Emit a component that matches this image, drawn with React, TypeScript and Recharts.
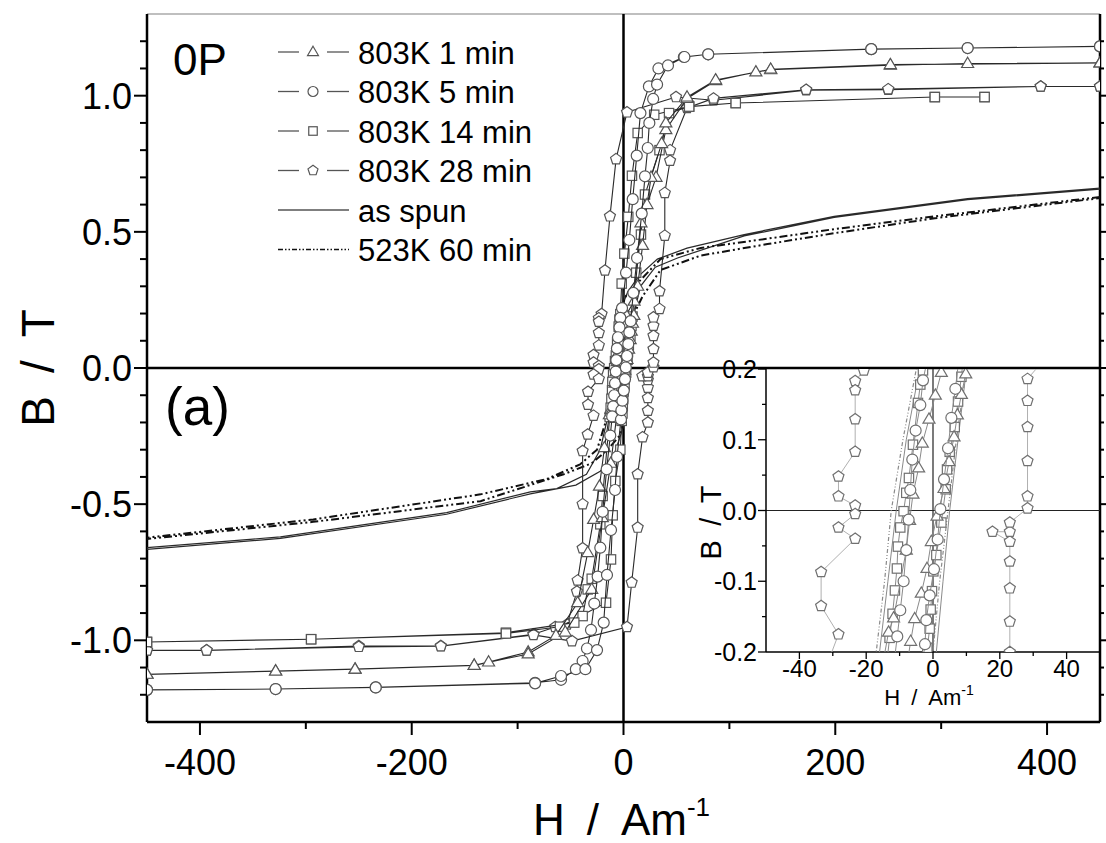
import React from "react";
import { ScatterChart, Scatter, XAxis, YAxis, ReferenceLine, Label } from "recharts";

type Pt = [number, number];

// 803K 1 min (triangles): descending branch, then ascending branch
const min1Down: Pt[] = [
  [450, 1.12], [325, 1.118], [252, 1.112], [139, 1.095], [125, 1.087], [87, 1.055], [60, 0.99],
  [40, 0.875], [30.7, 0.7], [16.5, 0.533], [10, 0.245], [2.5, 0.195], [0.7, 0.163], [-1.2, 0.129],
  [-3.2, 0.095], [-4.3, 0.06], [-6, 0.023], [-7, -0.014], [-8, -0.056], [-11.8, -0.152], [-13.3, -0.172],
  [-18, -0.293], [-22.7, -0.434], [-28.2, -0.556], [-33.8, -0.678], [-43.3, -0.862], [-63.8, -0.982],
  [-90, -1.043], [-127.4, -1.08], [-141, -1.092], [-253.5, -1.106], [-328.5, -1.113], [-450, -1.125],
];
const min1Up: Pt[] = [
  [-450, -1.125], [-328.5, -1.113], [-253.5, -1.106], [-141, -1.092], [-90, -1.05], [-55, -0.97],
  [-30, -0.813], [-20, -0.55], [-12, -0.35], [-6.7, -0.185], [-5.5, -0.153], [-3.5, -0.117], [-1.8, -0.082],
  [-0.5, -0.044], [1.2, -0.008], [3.3, 0.031], [4.8, 0.069], [6.3, 0.104], [7.3, 0.135], [8.5, 0.164],
  [9.8, 0.193], [13.4, 0.3], [18, 0.45], [22.2, 0.6], [26, 0.7], [36, 0.824], [40, 0.9], [60, 0.995],
  [87, 1.058], [139, 1.097], [252, 1.114], [450, 1.12],
];

// 803K 5 min (circles)
const min5Down: Pt[] = [
  [450, 1.181], [325, 1.175], [234, 1.171], [80, 1.152], [57, 1.142], [33, 1.1], [24, 1.034], [16, 0.936],
  [12.5, 0.78], [8.7, 0.62], [5.5, 0.47], [2.4, 0.35], [-1.4, 0.22], [-3, 0.184], [-3.8, 0.149],
  [-5.2, 0.113], [-6.2, 0.072], [-6.8, 0.029], [-7.3, -0.013], [-8, -0.056], [-8.8, -0.1], [-9.8, -0.141],
  [-10.7, -0.178], [-12.5, -0.248], [-15.9, -0.372], [-19.7, -0.528], [-21.9, -0.66], [-24.4, -0.766],
  [-27.6, -0.865], [-30.7, -0.962], [-34.5, -1.03], [-38.6, -1.076], [-45, -1.106], [-59, -1.145],
  [-83.5, -1.156], [-234, -1.173], [-328.5, -1.179], [-450, -1.182],
];
const min5Up: Pt[] = [
  [-450, -1.182], [-328.5, -1.179], [-234, -1.173], [-83.5, -1.158], [-59, -1.131], [-36, -1.106],
  [-25, -1.036], [-18.7, -0.935], [-15.6, -0.76], [-11.8, -0.595], [-8, -0.448], [-6.1, -0.326],
  [-2.4, -0.189], [-2, -0.155], [-1, -0.12], [0.3, -0.083], [1.4, -0.041], [2.2, 0.002], [3.3, 0.044],
  [4.5, 0.088], [5.5, 0.131], [6.7, 0.172], [9.3, 0.276], [12.8, 0.404], [17.2, 0.567], [20.3, 0.704],
  [22.9, 0.808], [24.4, 0.9], [28, 0.988], [31.7, 1.041], [42, 1.111], [57.5, 1.142], [80, 1.152],
  [234, 1.171], [325, 1.175], [450, 1.181],
];

// 803K 14 min (squares)
const min14Down: Pt[] = [
  [341, 0.995], [294, 0.995], [106, 0.973], [62, 0.96], [29, 0.93], [13.4, 0.863], [8, 0.706], [4.5, 0.555],
  [0.8, 0.42], [-1.7, 0.31], [-3, 0.198], [-3.8, 0.178], [-4.5, 0.152], [-6, 0.093], [-7.2, 0.046],
  [-8, 0.025], [-8.8, -0.001], [-9.8, -0.024], [-10.5, -0.051], [-10.8, -0.082], [-11.4, -0.113],
  [-12.1, -0.146], [-13, -0.18], [-19.7, -0.47], [-21.9, -0.574], [-30, -0.774], [-33.8, -0.813],
  [-38.6, -0.911], [-46.5, -0.935], [-111, -0.972], [-295, -0.996], [-450, -1.006],
];
const min14Up: Pt[] = [
  [-450, -1.006], [-295, -0.996], [-111, -0.975], [-60, -0.95], [-16.5, -0.862], [-11.8, -0.703],
  [-10.2, -0.541], [-7.7, -0.415], [-3, -0.3], [-1.7, -0.194], [-1, -0.167], [-0.7, -0.14], [-0.3, -0.114],
  [0.1, -0.086], [1, -0.063], [2.5, -0.017], [3.8, 0.03], [4.2, 0.058], [5, 0.083], [6.5, 0.118],
  [7.5, 0.154], [8.5, 0.189], [12, 0.35], [16.5, 0.49], [20.3, 0.637], [34, 0.8], [43, 0.936], [62, 0.96],
  [106, 0.973], [294, 0.995], [341, 0.995],
];

// 803K 28 min (pentagons)
const min28Down: Pt[] = [
  [450, 1.034], [394, 1.034], [250, 1.022], [172.5, 1.02], [85, 0.983], [49.6, 0.995], [3.3, 0.939],
  [-7, 0.767], [-12.8, 0.557], [-17.5, 0.358], [-20.7, 0.198], [-23.3, 0.183], [-23.3, 0.17], [-23.3, 0.129],
  [-23.3, 0.083], [-28.3, 0.048], [-28.3, 0.02], [-23.3, 0.007], [-23.3, -0.005], [-28.3, -0.024],
  [-23.3, -0.04], [-33.5, -0.087], [-33.5, -0.135], [-28.3, -0.175], [-33.8, -0.244], [-38.6, -0.305],
  [-38.6, -0.5], [-38.6, -0.662], [-43.3, -0.78], [-44, -0.821], [-53.4, -0.942], [-64.5, -0.951],
  [-85, -0.978], [-172.5, -1.021], [-250, -1.021], [-393.7, -1.037], [-450, -1.037],
];
const min28Up: Pt[] = [
  [-450, -1.037], [-393.7, -1.037], [-250, -1.024], [-172.5, -1.022], [-85, -0.98], [-48.7, -1.003],
  [3.3, -0.951], [7.7, -0.788], [13.4, -0.586], [13.4, -0.39], [18, -0.254], [23, -0.2], [23, -0.157],
  [23, -0.11], [23, -0.072], [23, -0.044], [17.8, -0.03], [23, -0.03], [23, -0.017], [28.3, 0.003],
  [28.3, 0.02], [28.3, 0.07], [28.3, 0.118], [28.3, 0.155], [28.3, 0.186], [34, 0.217], [34, 0.282],
  [39, 0.486], [39, 0.643], [44, 0.761], [44, 0.8], [60, 0.955], [85, 0.99], [172.5, 1.022], [250, 1.024],
  [394, 1.034], [450, 1.034],
];

// as spun (solid)
const asSpunDown: Pt[] = [
  [450, 0.661], [325, 0.622], [199, 0.557], [114, 0.49], [60, 0.44], [32, 0.4], [15, 0.34], [4, 0.28],
  [-4, 0.2], [-8, 0.1], [-11, 0], [-13.5, -0.1], [-16, -0.2], [-22, -0.3], [-35, -0.39], [-63, -0.443],
  [-88, -0.455], [-167, -0.531], [-324, -0.62], [-450, -0.66],
];
const asSpunUp: Pt[] = [
  [-450, -0.666], [-324, -0.626], [-167, -0.537], [-88, -0.462], [-45, -0.43], [-22, -0.379], [-10, -0.33],
  [-3, -0.25], [1, -0.2], [3, -0.1], [5, 0], [7.5, 0.1], [10, 0.2], [16, 0.3], [30, 0.37], [51, 0.404],
  [114, 0.485], [199, 0.553], [325, 0.618], [450, 0.657],
];

// 523K 60 min (dash-dot-dot)
const k523Down: Pt[] = [
  [450, 0.628], [294, 0.557], [199, 0.51], [136, 0.475], [73, 0.441], [35, 0.4], [16.5, 0.325], [3, 0.27],
  [-5, 0.2], [-9, 0.1], [-12.5, 0], [-14.5, -0.1], [-17, -0.2], [-25, -0.3], [-41, -0.354], [-72, -0.407],
  [-135, -0.464], [-293, -0.556], [-450, -0.623],
];
const k523Up: Pt[] = [
  [-450, -0.628], [-293, -0.565], [-135, -0.489], [-56.5, -0.39], [-30, -0.35], [-15, -0.3], [-4, -0.25],
  [0, -0.2], [2, -0.1], [4.5, 0], [7, 0.1], [10, 0.2], [18, 0.263], [35, 0.36], [73, 0.413], [136, 0.455],
  [199, 0.495], [294, 0.55], [450, 0.624],
];

const mainXTicks = [-400, -300, -200, -100, 0, 100, 200, 300, 400];
const mainYTicks = [
  -1.2, -1.1, -1.0, -0.9, -0.8, -0.7, -0.6, -0.5, -0.4, -0.3, -0.2, -0.1, 0,
  0.1, 0.2, 0.3, 0.4, 0.5, 0.6, 0.7, 0.8, 0.9, 1.0, 1.1, 1.2,
];
const insetXTicks = [-40, -30, -20, -10, 0, 10, 20, 30, 40];
const insetYTicks = [-0.2, -0.15, -0.1, -0.05, 0, 0.05, 0.1, 0.15, 0.2];

const FONT = '"Liberation Sans", Arial, Helvetica, sans-serif';

type Kind = "tri" | "circ" | "sq" | "pent" | "none";
type Series = { name: string; kind: Kind; rows: { h: number; b: number }[]; dash?: string; width: number };

const toRows = (down: Pt[], up: Pt[]) => [...down, ...up].map(([h, b]) => ({ h, b }));

const series: Series[] = [
  { name: "803K 1 min", kind: "tri", rows: toRows(min1Down, min1Up), width: 1.1 },
  { name: "803K 5 min", kind: "circ", rows: toRows(min5Down, min5Up), width: 1.1 },
  { name: "803K 14 min", kind: "sq", rows: toRows(min14Down, min14Up), width: 1.1 },
  { name: "803K 28 min", kind: "pent", rows: toRows(min28Down, min28Up), width: 1.1 },
  { name: "as spun", kind: "none", rows: toRows(asSpunDown, asSpunUp), width: 1.2 },
  { name: "523K 60 min", kind: "none", rows: toRows(k523Down, k523Up), dash: "8 3 2 3 2 3", width: 2 },
];
// drawn back to front
const drawOrder = [4, 5, 3, 2, 0, 1];

function Marker({ cx, cy, kind, size, stroke }: { cx: number; cy: number; kind: Kind; size: number; stroke: string }) {
  if (kind === "none" || cx == null || cy == null) return <g />;
  const r = size / 2;
  const common = { fill: "#fff", stroke, strokeWidth: 1.2 };
  if (kind === "circ") return <circle cx={cx} cy={cy} r={r} {...common} />;
  if (kind === "sq") return <rect x={cx - r * 0.85} y={cy - r * 0.85} width={r * 1.7} height={r * 1.7} {...common} />;
  if (kind === "tri") {
    const h = r * 1.15;
    return <polygon points={`${cx},${cy - h} ${cx + h * 0.95},${cy + h * 0.62} ${cx - h * 0.95},${cy + h * 0.62}`} {...common} />;
  }
  const pts = [0, 1, 2, 3, 4]
    .map((i) => {
      const a = -Math.PI / 2 + (i * 2 * Math.PI) / 5;
      return `${cx + r * 1.05 * Math.cos(a)},${cy + r * 1.05 * Math.sin(a)}`;
    })
    .join(" ");
  return <polygon points={pts} {...common} />;
}

// main axes ticks (major + minor drawn by hand)
const MainYTick = (props: any) => {
  const { x, y, payload, orientation } = props;
  const v = payload.value as number;
  const major = Math.round(v * 10) % 5 === 0;
  const len = major ? 13 : 7;
  if (orientation === "right") {
    return <line x1={x} x2={x + (major ? 6 : 4)} y1={y} y2={y} stroke="#000" strokeWidth={2} />;
  }
  return (
    <g>
      <line x1={x} x2={x - len} y1={y} y2={y} stroke="#000" strokeWidth={2} />
      {major && (
        <text x={x - 15} y={y + 13} textAnchor="end" fontSize={36} fontFamily={FONT} fill="#000">
          {v.toFixed(1)}
        </text>
      )}
    </g>
  );
};

const MainXTick = (props: any) => {
  const { x, y, payload } = props;
  const v = payload.value as number;
  const major = v % 200 === 0;
  return (
    <g>
      <line x1={x} x2={x} y1={y} y2={y + (major ? 13 : 7)} stroke="#000" strokeWidth={2} />
      {major && (
        <text x={x} y={y + 53} textAnchor="middle" fontSize={36} fontFamily={FONT} fill="#000">
          {v}
        </text>
      )}
    </g>
  );
};

const InsetYTick = (props: any) => {
  const { x, y, payload } = props;
  const v = payload.value as number;
  const major = Math.round(v * 100) % 10 === 0;
  return (
    <g>
      <line x1={x} x2={x - (major ? 8 : 4)} y1={y} y2={y} stroke="#000" strokeWidth={1.3} />
      {major && (
        <text x={x - 9} y={y + 9} textAnchor="end" fontSize={25} fontFamily={FONT} fill="#000">
          {v.toFixed(1)}
        </text>
      )}
    </g>
  );
};

const InsetXTick = (props: any) => {
  const { x, y, payload } = props;
  const v = payload.value as number;
  const major = v % 20 === 0;
  return (
    <g>
      <line x1={x} x2={x} y1={y} y2={y + (major ? 7 : 4)} stroke="#000" strokeWidth={1.3} />
      {major && (
        <text x={x} y={y + 25} textAnchor="middle" fontSize={24} fontFamily={FONT} fill="#000">
          {v}
        </text>
      )}
    </g>
  );
};

const SP = "\u2002";

const MainXTitle = (props: any) => {
  const vb = props.viewBox;
  return (
    <text x={vb.x + vb.width / 2 - 2} y={vb.y + 113} textAnchor="middle" fontSize={44} fontFamily={FONT} fill="#000">
      {`H${SP}/${SP}Am`}
      <tspan dy={-19} fontSize={26}>-1</tspan>
    </text>
  );
};

const MainYTitle = (props: any) => {
  const vb = props.viewBox;
  const cy = vb.y + vb.height / 2;
  return (
    <text x={54} y={cy} transform={`rotate(-90 54 ${cy})`} textAnchor="middle" fontSize={46} fontFamily={FONT} fill="#000">
      {`B${SP}/${SP}T`}
    </text>
  );
};

const InsetXTitle = (props: any) => {
  const vb = props.viewBox;
  return (
    <text x={vb.x + vb.width / 2 - 4} y={vb.y + 53} textAnchor="middle" fontSize={22} fontFamily={FONT} fill="#000">
      {`H${SP}/${SP}Am`}
      <tspan dy={-10} fontSize={14}>-1</tspan>
    </text>
  );
};

const InsetYTitle = (props: any) => {
  const vb = props.viewBox;
  const cy = vb.y + vb.height / 2 + 12;
  return (
    <text x={31} y={cy} transform={`rotate(-90 31 ${cy})`} textAnchor="middle" fontSize={29} fontFamily={FONT} fill="#000">
      {`B${SP}/${SP}T`}
    </text>
  );
};

function Legend() {
  const rowY = [52, 91.5, 131, 170.5, 210, 249.5];
  return (
    <svg width={1106} height={843} style={{ position: "absolute", left: 0, top: 0, pointerEvents: "none" }}>
      <text x={173} y={75} fontSize={44} fontFamily={FONT} fill="#000">0P</text>
      <text x={165} y={425} fontSize={53} fontFamily={FONT} fill="#000">(a)</text>
      {series.map((s, i) => {
        const y = rowY[i];
        return (
          <g key={s.name}>
            {s.kind === "none" ? (
              <line x1={278} x2={349} y1={y} y2={y} stroke={s.dash ? "#111" : "#555"} strokeWidth={1.3} strokeDasharray={s.dash ? "5 2 1.5 2 1.5 2" : undefined} />
            ) : (
              <g>
                <line x1={278} x2={299} y1={y} y2={y} stroke="#555" strokeWidth={1.3} />
                <line x1={327} x2={349} y1={y} y2={y} stroke="#555" strokeWidth={1.3} />
                <Marker cx={313} cy={y} kind={s.kind} size={10} stroke="#555" />
              </g>
            )}
            <text x={358} y={y + 11.5} fontSize={31} fontFamily={FONT} fill="#000">{s.name}</text>
          </g>
        );
      })}
    </svg>
  );
}

function Inset() {
  return (
    <div style={{ position: "absolute", left: 690, top: 355 }}>
      <ScatterChart width={416} height={368} margin={{ top: 14, right: 6, bottom: 0, left: 0 }}>
        <XAxis
          type="number"
          dataKey="h"
          domain={[-50, 50]}
          allowDataOverflow
          ticks={insetXTicks}
          interval={0}
          tickSize={0}
          tickMargin={0}
          tickLine={false}
          height={71}
          axisLine={{ stroke: "#000", strokeWidth: 1.5 }}
          tick={(p: any) => <InsetXTick {...p} />}
        >
          <Label content={InsetXTitle} />
        </XAxis>
        <YAxis
          type="number"
          dataKey="b"
          domain={[-0.2, 0.2]}
          allowDataOverflow
          ticks={insetYTicks}
          interval={0}
          tickSize={0}
          tickMargin={0}
          tickLine={false}
          width={76}
          axisLine={{ stroke: "#000", strokeWidth: 1.5 }}
          tick={(p: any) => <InsetYTick {...p} />}
        >
          <Label content={InsetYTitle} />
        </YAxis>
        <ReferenceLine x={0} stroke="#222" strokeWidth={1.2} />
        <ReferenceLine y={0} stroke="#222" strokeWidth={1.2} />
        {drawOrder.map((i) => {
          const s = series[i];
          return (
            <Scatter
              key={s.name}
              name={s.name}
              data={s.rows}
              isAnimationActive={false}
              line={{ stroke: s.kind === "pent" ? "#b0b0b0" : "#8a8a8a", strokeWidth: s.dash ? 1.2 : 1, strokeDasharray: s.dash ? "4 2 1 2 1 2" : undefined }}
              lineType="joint"
              shape={(p: any) => <Marker cx={p.cx} cy={p.cy} kind={s.kind} size={11} stroke="#707070" />}
            />
          );
        })}
      </ScatterChart>
    </div>
  );
}

export default function App() {
  return (
    <div style={{ position: "absolute", left: 0, top: 0, width: 1106, height: 843, background: "#fff" }}>
      <ScatterChart width={1106} height={843} margin={{ top: 14, right: 0, bottom: 0, left: 0 }}>
        <XAxis
          type="number"
          dataKey="h"
          domain={[-450, 450]}
          allowDataOverflow
          ticks={mainXTicks}
          interval={0}
          tickSize={0}
          tickMargin={0}
          tickLine={false}
          height={121}
          axisLine={{ stroke: "#000", strokeWidth: 2.5 }}
          tick={(p: any) => <MainXTick {...p} />}
        >
          <Label content={MainXTitle} />
        </XAxis>
        <YAxis
          yAxisId="l"
          type="number"
          dataKey="b"
          domain={[-1.3, 1.3]}
          allowDataOverflow
          ticks={mainYTicks}
          interval={0}
          tickSize={0}
          tickMargin={0}
          tickLine={false}
          width={147}
          axisLine={{ stroke: "#000", strokeWidth: 2.5 }}
          tick={(p: any) => <MainYTick {...p} orientation="left" />}
        >
          <Label content={MainYTitle} />
        </YAxis>
        <YAxis
          yAxisId="r"
          orientation="right"
          type="number"
          dataKey="b"
          domain={[-1.3, 1.3]}
          allowDataOverflow
          ticks={mainYTicks}
          interval={0}
          tickSize={0}
          tickMargin={0}
          tickLine={false}
          width={6}
          axisLine={{ stroke: "#000", strokeWidth: 2.5 }}
          tick={(p: any) => <MainYTick {...p} orientation="right" />}
        />
        <ReferenceLine yAxisId="l" y={1.3} stroke="#aaa" strokeWidth={1.5} />
        <ReferenceLine yAxisId="l" y={0} stroke="#000" strokeWidth={2.5} />
        <ReferenceLine yAxisId="l" x={0} stroke="#000" strokeWidth={2.5} />
        {drawOrder.map((i) => {
          const s = series[i];
          return (
            <Scatter
              key={s.name}
              yAxisId="l"
              name={s.name}
              data={s.rows}
              isAnimationActive={false}
              line={{ stroke: s.dash ? "#111" : "#2a2a2a", strokeWidth: s.width, strokeDasharray: s.dash }}
              lineType="joint"
              shape={(p: any) => <Marker cx={p.cx} cy={p.cy} kind={s.kind} size={11} stroke="#555" />}
            />
          );
        })}
      </ScatterChart>
      <Legend />
      <Inset />
    </div>
  );
}
